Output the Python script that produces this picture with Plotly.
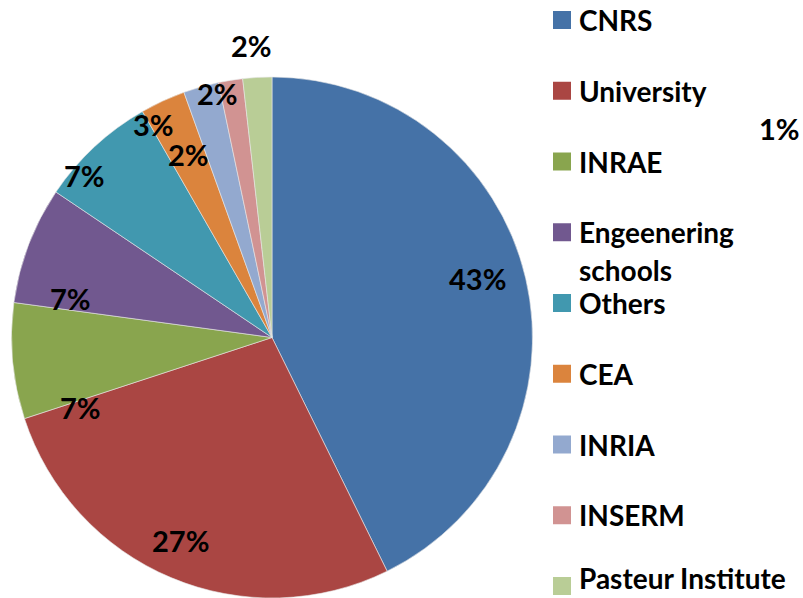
import plotly.graph_objects as go

# Data
categories = ["CNRS", "University", "INRAE", "Engeenering schools", "Others",
              "CEA", "INRIA", "INSERM", "Pasteur Institute"]
values = [42.8, 27.3, 7.2, 7.3, 7.3, 2.8, 2.2, 1.5, 1.8]
colors = ["#4572A7", "#AA4643", "#89A54E", "#71588F", "#4198AF",
          "#DB843D", "#93A9CF", "#D19392", "#B9CD96"]

# Data label texts (as placed in the original chart) and their positions (pixels)
label_texts = ["43%", "27%", "7%", "7%", "7%", "2%", "3%", "2%", "2%", "1%"]
label_px = [(477, 278), (180, 540), (80, 407), (70, 298), (84, 175),
            (188, 154), (153, 125), (218, 93), (252, 45), (802, 129)]

W, H = 803, 598
FONT = "Lato"

fig = go.Figure(go.Pie(
    labels=categories,
    values=values,
    sort=False,
    direction="clockwise",
    rotation=0,
    marker=dict(colors=colors, line=dict(color="#e8e8e8", width=0.6)),
    textinfo="none",
    hoverinfo="skip",
    showlegend=False,
    domain=dict(x=[11 / W, 533 / W], y=[0, 521 / H]),
))

# data labels
for t, (px, py) in zip(label_texts, label_px):
    right = px > W - 20
    fig.add_annotation(
        x=px / W, y=1 - py / H, xref="paper", yref="paper",
        text=t, showarrow=False,
        xanchor="right" if right else "center", yanchor="middle",
        font=dict(family=FONT, size=29, color="black", weight="bold"),
    )

# legend (drawn as a layout element: colour square + label per category)
LEG_TOP, LEG_STEP = 20, 70.75
SQ_X0, SQ_X1, SQ_HALF = 553, 571, 9
TXT_X, LINE_GAP, LEG_FS = 577, 38, 28
for i, (name, col) in enumerate(zip(categories, colors)):
    cy = LEG_TOP + i * LEG_STEP
    fig.add_shape(
        type="rect", xref="paper", yref="paper",
        x0=SQ_X0 / W, x1=SQ_X1 / W,
        y0=1 - (cy - SQ_HALF) / H, y1=1 - (cy + SQ_HALF) / H,
        fillcolor=col, line=dict(width=0),
    )
    lines = name.split(" ") if name == "Engeenering schools" else [name]
    for j, ln in enumerate(lines):
        ty = min(cy + j * LINE_GAP, H - 20)
        fig.add_annotation(
            x=TXT_X / W, y=1 - ty / H,
            xref="paper", yref="paper",
            text=ln, showarrow=False, xanchor="left", yanchor="middle",
            font=dict(family=FONT, size=LEG_FS, color="black", weight="bold"),
        )

fig.update_layout(
    width=W, height=H,
    margin=dict(l=0, r=0, t=0, b=0),
    paper_bgcolor="white",
    plot_bgcolor="white",
    showlegend=False,
)

fig.write_html(
    "out.html",
    config={"displayModeBar": False},
    post_script="document.body.style.margin='0';document.body.style.overflow='hidden';",
)
